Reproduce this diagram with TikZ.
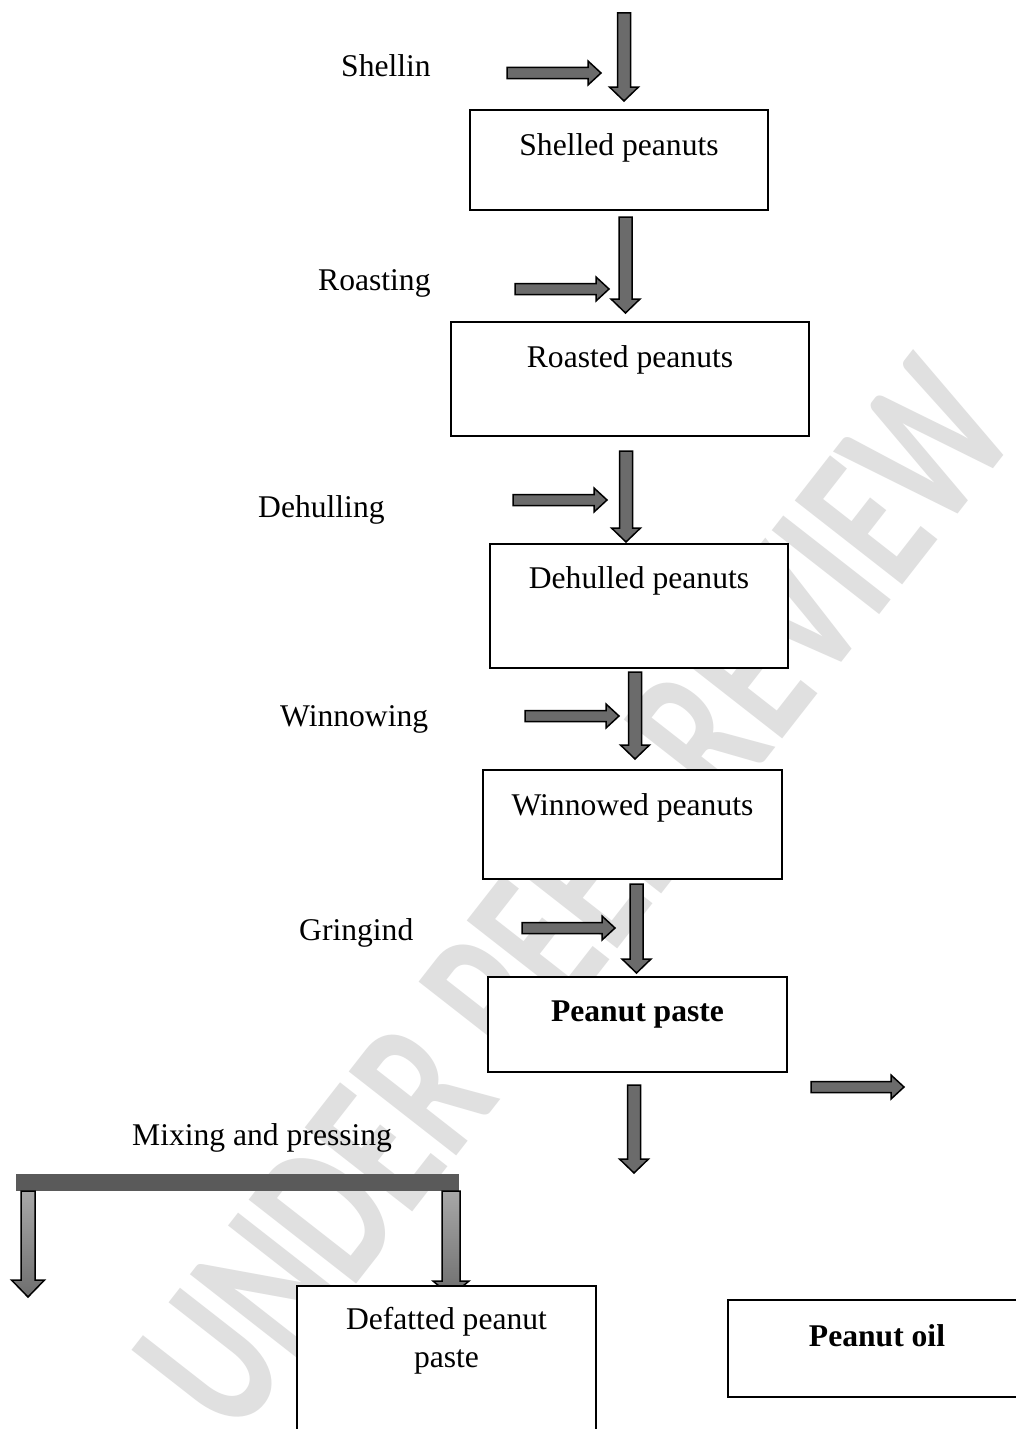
\documentclass[tikz,border=0pt]{standalone}
\usepackage{fontspec}
\setmainfont{Liberation Serif}
\newfontfamily\wmfont{Carlito}
\usetikzlibrary{calc}
\definecolor{arrowgray}{HTML}{6B6B6B}
\definecolor{bargray}{HTML}{5A5A5A}
\definecolor{shtop}{HTML}{A8A8A8}
\definecolor{shbot}{HTML}{6E6E6E}
\definecolor{wmgray}{HTML}{E0E0E0}
% down block arrow: [style]{start}{tip}{shaft half width}{head half width}{head length}
\newcommand{\blkdown}[6][]{%
  \draw[barrow,#1] let \p1=(#2), \p2=(#3) in
    (\x1-#4pt,\y1) -- (\x1+#4pt,\y1) -- (\x1+#4pt,\y2+#6pt) -- (\x1+#5pt,\y2+#6pt)
    -- (\x1,\y2) -- (\x1-#5pt,\y2+#6pt) -- (\x1-#4pt,\y2+#6pt) -- cycle;}
% right block arrow: {start}{tip}
\newcommand{\blkright}[2]{%
  \draw[barrow] let \p1=(#1), \p2=(#2) in
    (\x1,\y1+5.5pt) -- (\x2-13pt,\y1+5.5pt) -- (\x2-13pt,\y1+12pt) -- (\x2,\y1)
    -- (\x2-13pt,\y1-12pt) -- (\x2-13pt,\y1-5.5pt) -- (\x1,\y1-5.5pt) -- cycle;}
\begin{document}
\begin{tikzpicture}[x=1pt,y=-1pt,
  box/.style={draw=black,line width=1.5pt,fill=white,inner sep=0pt},
  lab/.style={font=\fontsize{31.6}{38}\selectfont,inner sep=0pt},
  blab/.style={font=\fontsize{31.6}{38}\selectfont\bfseries,inner sep=0pt},
  barrow/.style={draw=black,line width=1.5pt,fill=arrowgray,line join=miter},
  gradarrow/.style={top color=shtop,bottom color=shbot},
]
\useasboundingbox[fill=white] (0,0) rectangle (1016,1429);

% watermark
\node[rotate=52,text=wmgray,font=\wmfont\bfseries\fontsize{145}{145}\selectfont,inner sep=0pt]
  (wm) at (575,895) {\scalebox{1}[1.45]{UNDER PEER REVIEW}};

% boxes
\node[box,minimum width=298pt,minimum height=100pt] (b1) at (619,160) {};
\node[box,minimum width=358pt,minimum height=114pt] (b2) at (630,379) {};
\node[box,minimum width=298pt,minimum height=124pt] (b3) at (639,606) {};
\node[box,minimum width=299pt,minimum height=109pt] (b4) at (632.5,824.5) {};
\node[box,minimum width=299pt,minimum height=95pt] (b5) at (637.5,1024.5) {};

% box texts
\node[lab,anchor=base] (t1) at (619,155) {Shelled peanuts};
\node[lab,anchor=base] (t2) at (630,367) {Roasted peanuts};
\node[lab,anchor=base] (t3) at (639,588) {Dehulled peanuts};
\node[lab,anchor=base] (t4) at (632.5,815) {Winnowed peanuts};
\node[blab,anchor=base] (t5) at (637.5,1021) {Peanut paste};

% step labels
\node[lab,anchor=base west] (l1) at (341,77) {Shellin};
\node[lab,anchor=base west] (l2) at (318,290) {Roasting};
\node[lab,anchor=base west] (l3) at (258,517) {Dehulling};
\node[lab,anchor=base west] (l4) at (280,726) {Winnowing};
\node[lab,anchor=base west] (l5) at (299,940) {Gringind};
\node[lab,anchor=base west] (l6) at (132,1145) {Mixing and pressing};

% arrow end points
\coordinate (v1s) at (624,13);    \coordinate (v1e) at (624,101);
\coordinate (v2s) at (625.5,217); \coordinate (v2e) at (625.5,313);
\coordinate (v3s) at (626,451);   \coordinate (v3e) at (626,542);
\coordinate (v4s) at (635,672);   \coordinate (v4e) at (635,759);
\coordinate (v5s) at (636.5,884); \coordinate (v5e) at (636.5,973);
\coordinate (v6s) at (634,1085);  \coordinate (v6e) at (634,1173);
\coordinate (h1s) at (507,73);    \coordinate (h1e) at (601,73);
\coordinate (h2s) at (515,289);   \coordinate (h2e) at (609,289);
\coordinate (h3s) at (513,500);   \coordinate (h3e) at (607,500);
\coordinate (h4s) at (525,716);   \coordinate (h4e) at (619,716);
\coordinate (h5s) at (522,928);   \coordinate (h5e) at (615,928);
\coordinate (h6s) at (811,1087);  \coordinate (h6e) at (904,1087);

\blkdown{v1s}{v1e}{6.5}{14.5}{14}
\blkdown{v2s}{v2e}{6.5}{14.5}{14}
\blkdown{v3s}{v3e}{6.5}{14.5}{14}
\blkdown{v4s}{v4e}{6.5}{14.5}{14}
\blkdown{v5s}{v5e}{6.5}{14.5}{14}
\blkdown{v6s}{v6e}{6.5}{14.5}{14}
\blkright{h1s}{h1e}
\blkright{h2s}{h2e}
\blkright{h3s}{h3e}
\blkright{h4s}{h4e}
\blkright{h5s}{h5e}
\blkright{h6s}{h6e}

% mixing and pressing bar with branches
\node[fill=bargray,minimum width=443pt,minimum height=17pt,inner sep=0pt] (bar) at (237.5,1182.5) {};
\coordinate (gl) at (28,1191);  \coordinate (gle) at (28,1297);
\coordinate (gr) at (451,1191); \coordinate (gre) at (451,1296);
\blkdown[gradarrow]{gl}{gle}{7}{16.5}{17}
\blkdown[gradarrow]{gr}{gre}{9}{18}{15}

% bottom boxes
\node[box,minimum width=299pt,minimum height=180pt] (b6) at (446.5,1376) {};
\node[lab,align=center,anchor=north] (t6) at (446.5,1307) {Defatted peanut\\paste};
\node[box,minimum width=298pt,minimum height=97pt] (b7) at (877,1348.5) {};
\node[blab,anchor=base] (t7) at (877,1346) {Peanut oil};
\end{tikzpicture}
\end{document}
